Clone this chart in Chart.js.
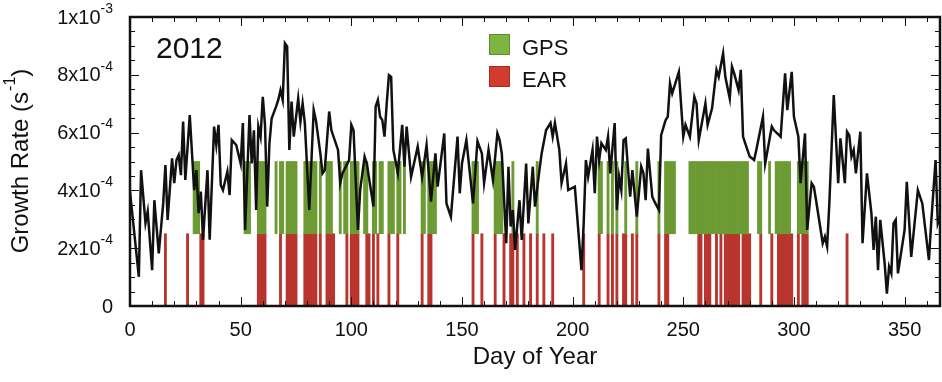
<!DOCTYPE html>
<html>
<head>
<meta charset="utf-8">
<script src="https://cdn.jsdelivr.net/npm/chart.js@4.4.1/dist/chart.umd.min.js"></script>
<style>
  body { margin: 0; background: #fff; }
  #wrap { position: relative; width: 942px; height: 382px; }
  canvas { display: block; }
  .note { position: absolute; font-family: "Liberation Sans", Arial, sans-serif; color: #111; line-height: 1; white-space: nowrap; }
  .key { position: absolute; width: 21px; height: 21px; box-sizing: border-box; }
</style>
</head>
<body>
<div id="wrap">
  <canvas id="myChart" width="942" height="382"></canvas>
  <div class="note" style="left:156px; top:33px; font-size:30px;">2012</div>
  <div class="key" style="left:489px; top:34px; background:#7db540; border:1px solid #5f8a2e;"></div>
  <div class="note" style="left:522px; top:37px; font-size:22px;">GPS</div>
  <div class="key" style="left:489px; top:66px; background:#d33b2f; border:1px solid #a32c24;"></div>
  <div class="note" style="left:522px; top:69px; font-size:22px;">EAR</div>
</div>
<script>
// growth rate, day of year -> value in units of 1e-4 s^-1
var days = [0, 4, 5, 7, 8, 10, 11, 13, 15, 16, 17, 19, 20, 21, 22, 23, 24, 25, 27, 29,
  30, 31, 32, 33, 35, 36, 38, 39, 40, 41, 42, 44, 45, 46, 48, 50, 51, 52, 54, 55,
  56, 57, 58, 59, 60, 61, 62, 63, 64, 66, 67, 68, 69, 70, 71, 72, 73, 74, 76, 77,
  78, 79, 81, 83, 84, 86, 87, 88, 90, 91, 94, 95, 96, 99, 100, 101, 103, 104, 106, 107,
  110, 111, 112, 113, 114, 115, 116, 117, 118, 119, 121, 123, 124, 125, 127, 130, 132, 134, 136, 138,
  139, 142, 143, 145, 148, 149, 150, 152, 155, 157, 159, 160, 162, 164, 166, 167, 168, 170, 171, 172,
  173, 174, 176, 177, 179, 180, 182, 183, 185, 186, 188, 190, 191, 192, 194, 195, 197, 198, 201, 204,
  205, 206, 207, 209, 210, 211, 212, 213, 215, 216, 217, 219, 220, 221, 222, 223, 224, 226, 227, 229,
  231, 232, 233, 234, 236, 237, 239, 240, 242, 243, 244, 245, 248, 250, 251, 253, 255, 256, 257, 260,
  261, 263, 265, 266, 268, 269, 271, 272, 273, 275, 276, 277, 278, 280, 282, 283, 286, 287, 290, 291,
  294, 296, 297, 299, 300, 302, 303, 305, 306, 308, 309, 310, 313, 314, 315, 316, 318, 320, 321, 323,
  324, 325, 326, 327, 328, 330, 331, 333, 335, 336, 337, 338, 339, 341, 342, 343, 344, 345, 346, 347,
  350, 351, 353, 356, 358, 361, 362, 364, 365, 366];
var growthRate = [3.95, 1.01, 4.70, 2.87, 3.27, 1.24, 3.66, 1.82, 3.55, 4.88, 2.98, 5.11, 4.25, 5.05, 5.22, 4.53, 6.38, 4.36, 6.61, 4.01,
  4.70, 3.21, 3.96, 2.29, 4.70, 2.29, 6.21, 5.57, 6.27, 4.19, 4.01, 4.65, 3.84, 5.74, 5.57, 4.93, 6.33, 2.63, 6.61, 4.93,
  6.08, 3.32, 6.21, 5.86, 7.24, 6.27, 3.44, 5.63, 6.49, 6.90, 7.13, 7.47, 7.13, 9.09, 8.98, 5.40, 7.07, 5.86, 7.18, 6.38,
  7.01, 6.33, 3.32, 6.78, 6.43, 5.28, 4.59, 4.70, 6.73, 6.08, 5.40, 4.25, 4.59, 5.05, 6.27, 6.08, 2.63, 4.01, 5.17, 4.93,
  3.44, 6.90, 7.13, 6.55, 6.43, 5.86, 7.01, 7.99, 7.93, 5.40, 4.59, 6.27, 4.82, 6.21, 4.47, 5.51, 4.47, 5.57, 3.61, 5.28,
  4.13, 5.97, 3.55, 3.09, 5.86, 3.90, 4.93, 5.74, 3.55, 5.70, 5.28, 4.25, 5.40, 4.36, 5.97, 5.74, 5.28, 2.17, 4.82, 2.75,
  3.32, 1.94, 3.66, 2.29, 4.93, 2.86, 4.82, 3.44, 4.70, 5.28, 6.08, 6.33, 5.86, 6.33, 5.40, 4.25, 4.93, 4.01, 4.13, 1.24,
  2.86, 5.05, 4.47, 5.40, 3.90, 5.86, 5.05, 5.63, 5.40, 5.86, 4.59, 6.33, 3.32, 4.47, 4.01, 5.74, 5.80, 3.78, 4.70, 3.09,
  4.82, 4.59, 3.66, 5.45, 3.78, 3.61, 3.32, 5.91, 6.43, 6.55, 7.70, 7.36, 8.10, 5.86, 6.27, 5.86, 7.24, 7.01, 5.74, 7.01,
  6.27, 6.84, 8.17, 7.93, 8.74, 7.93, 7.18, 8.28, 8.05, 7.47, 8.17, 5.86, 5.63, 5.17, 5.05, 5.40, 6.55, 4.93, 6.21, 6.08,
  5.86, 8.05, 6.78, 8.10, 6.55, 5.86, 4.25, 5.97, 2.63, 4.25, 4.13, 3.66, 2.17, 2.40, 2.06, 3.55, 7.30, 4.25, 5.80, 4.25,
  6.03, 5.91, 5.17, 5.40, 4.59, 6.03, 2.17, 4.59, 3.21, 1.94, 3.09, 1.24, 2.98, 1.47, 0.43, 1.36, 1.13, 2.86, 2.98, 1.13,
  2.63, 4.30, 1.70, 4.01, 3.55, 1.59, 2.86, 5.05, 2.86, 3.09];

// days with GPS and EAR observations
var gpsDays = [29, 30, 31, 52, 53, 54, 58, 59, 60, 61, 66, 68, 69, 71, 72, 73, 74, 75, 79, 80,
  81, 82, 83, 84, 86, 89, 90, 91, 95, 97, 98, 100, 101, 102, 103, 106, 107, 110, 111, 113,
  114, 117, 118, 119, 121, 122, 124, 132, 133, 135, 136, 137, 138, 155, 156, 157, 165, 166, 167, 168,
  173, 184, 212, 213, 216, 218, 220, 224, 229, 239, 242, 243, 244, 245, 246,
  253, 254, 255, 256, 257, 258, 259, 260, 261, 262, 263, 264, 265, 266, 267, 268, 269, 270, 271, 272,
  273, 274, 275, 276, 277, 278, 279, 284, 285, 289, 292, 293, 294, 295, 296, 297, 298,
  302, 303, 304, 305, 306];
var earDays = [16, 26, 32, 33, 58, 59, 60, 61, 68, 71, 72, 73, 74, 75, 79, 80, 81, 82, 83, 84,
  86, 89, 90, 91, 92, 98, 100, 101, 102, 103, 107, 108, 110, 112, 117, 121, 132, 135, 136, 155,
  159, 165, 169, 172, 173, 175, 178, 181, 184, 187, 191, 205, 212, 216, 218, 220, 223, 224, 227, 229,
  239, 242, 243, 257, 258, 260, 261, 262, 265, 267, 269, 270, 271, 272, 273, 274, 275, 277, 278, 279,
  280, 285, 290, 293, 294, 295, 296, 297, 298, 299, 302, 304, 305, 306, 324];

// value range each observation bar covers (units of 1e-4 s^-1)
var gpsBand = [2.5, 5];
var earBand = [0, 2.5];

// y tick values and their labels as [mantissa part, exponent]
var yTickValues = [0, 2, 4, 6, 8, 10];
var yTickLabels = [["0", ""], ["2x10", "-4"], ["4x10", "-4"], ["6x10", "-4"], ["8x10", "-4"], ["1x10", "-3"]];
// y axis title, with its exponent split out
var yTitle = ["Growth Rate (s", "-1", ")"];

var fontFamily = "'Liberation Sans', Arial, sans-serif";

// frame around the plot with tick marks pointing inwards
var frame = {
  id: "frame",
  afterDraw: function (chart) {
    var ctx = chart.ctx;
    var a = chart.chartArea;
    var x = chart.scales.x;
    var y = chart.scales.y;
    ctx.save();
    ctx.strokeStyle = "#111";
    ctx.lineWidth = 1;
    ctx.beginPath();
    for (var d = 10; d < 366; d += 10) {
      var px = Math.round(x.getPixelForValue(d)) + 0.5;
      var len = d % 50 === 0 ? 9 : 5;
      ctx.moveTo(px, a.bottom); ctx.lineTo(px, a.bottom - len);
      ctx.moveTo(px, a.top); ctx.lineTo(px, a.top + len);
    }
    for (var v = 0.5; v < 10; v += 0.5) {
      var py = Math.round(y.getPixelForValue(v)) + 0.5;
      var l = v % 2 === 0 ? 9 : 5;
      ctx.moveTo(a.left, py); ctx.lineTo(a.left + l, py);
      ctx.moveTo(a.right, py); ctx.lineTo(a.right - l, py);
    }
    ctx.stroke();
    ctx.lineWidth = 2.5;
    ctx.strokeRect(a.left, a.top, a.right - a.left, a.bottom - a.top);
    ctx.restore();
  }
};

// y tick labels and y title with real superscript exponents
var powerLabels = {
  id: "powerLabels",
  afterDraw: function (chart) {
    var ctx = chart.ctx;
    var y = chart.scales.y;
    var a = chart.chartArea;
    var right = a.left - 17;
    ctx.save();
    ctx.fillStyle = "#111";
    ctx.textBaseline = "middle";
    ctx.textAlign = "left";
    yTickValues.forEach(function (v, i) {
      var py = y.getPixelForValue(v) + 1;
      var base = yTickLabels[i][0];
      var exp = yTickLabels[i][1];
      ctx.font = "14px " + fontFamily;
      var ew = exp ? ctx.measureText(exp).width : 0;
      ctx.font = "20px " + fontFamily;
      var bw = ctx.measureText(base).width;
      ctx.fillText(base, right - ew - bw, py);
      if (exp) {
        ctx.font = "14px " + fontFamily;
        ctx.fillText(exp, right - ew, py - 9);
      }
    });

    // rotated title
    ctx.translate(21, (a.top + a.bottom) / 2);
    ctx.rotate(-Math.PI / 2);
    ctx.font = "24px " + fontFamily;
    var w0 = ctx.measureText(yTitle[0]).width;
    var w2 = ctx.measureText(yTitle[2]).width;
    ctx.font = "16px " + fontFamily;
    var w1 = ctx.measureText(yTitle[1]).width;
    var start = -(w0 + w1 + w2) / 2;
    ctx.font = "24px " + fontFamily;
    ctx.fillText(yTitle[0], start, 0);
    ctx.fillText(yTitle[2], start + w0 + w1 + 1, 0);
    ctx.font = "16px " + fontFamily;
    ctx.fillText(yTitle[1], start + w0 + 1, -10);
    ctx.restore();
  }
};

var ctx = document.getElementById("myChart").getContext("2d");

var myChart = new Chart(ctx, {
  type: "bar",
  data: {
    datasets: [
      {
        type: "line",
        label: "Growth rate",
        data: days.map(function (d, i) { return { x: d, y: growthRate[i] }; }),
        borderColor: "#111",
        borderWidth: 2.5,
        pointRadius: 0,
        tension: 0,
        order: 0
      },
      {
        label: "GPS",
        data: gpsDays.map(function (d) { return { x: d, y: gpsBand }; }),
        backgroundColor: "#6c9a33",
        borderWidth: 0,
        grouped: false,
        categoryPercentage: 1,
        barPercentage: 1,
        order: 1
      },
      {
        label: "EAR",
        data: earDays.map(function (d) { return { x: d, y: earBand }; }),
        backgroundColor: "#b8342d",
        borderWidth: 0,
        grouped: false,
        categoryPercentage: 1,
        barPercentage: 1,
        order: 2
      }
    ]
  },
  options: {
    responsive: false,
    animation: false,
    layout: { padding: { top: 17, right: 2, left: 0, bottom: 0 } },
    plugins: {
      legend: { display: false },
      tooltip: { enabled: false }
    },
    scales: {
      x: {
        type: "linear",
        min: 0,
        max: 366,
        offset: false,
        grid: { display: false, drawTicks: false, offset: false },
        border: { display: false },
        ticks: {
          stepSize: 50,
          includeBounds: false,
          maxRotation: 0,
          autoSkip: false,
          padding: 12,
          color: "#111",
          font: { family: fontFamily, size: 20 }
        },
        title: {
          display: true,
          text: "Day of Year",
          color: "#111",
          font: { family: fontFamily, size: 24 },
          padding: { top: 0, bottom: 10 }
        },
        afterFit: function (s) { s.height = 76; }
      },
      y: {
        type: "linear",
        min: 0,
        max: 10,
        grid: { display: false, drawTicks: false },
        border: { display: false },
        ticks: { display: false, stepSize: 2 },
        afterFit: function (s) { s.width = 130; }
      }
    }
  },
  plugins: [frame, powerLabels]
});
</script>
</body>
</html>
